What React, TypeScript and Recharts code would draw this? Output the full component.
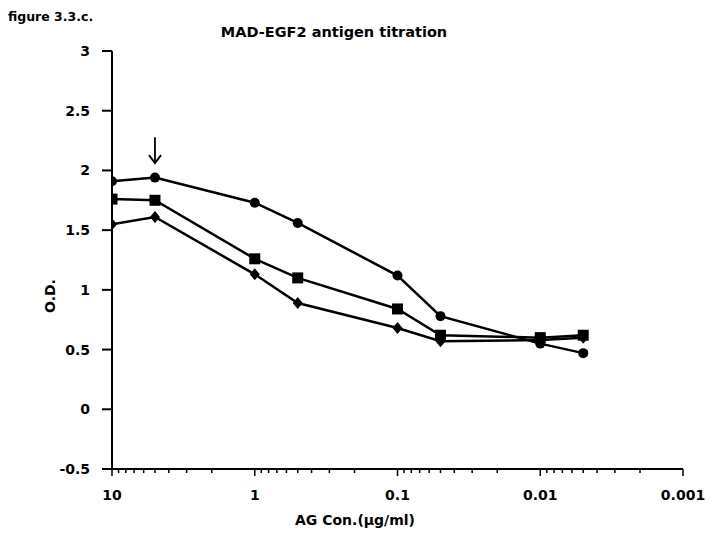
import { LineChart, Line, XAxis, YAxis, ReferenceDot } from 'recharts';

const concentrations = [10, 5, 1, 0.5, 0.1, 0.05, 0.01, 0.005];
const circleOD = [1.91, 1.94, 1.73, 1.56, 1.12, 0.78, 0.55, 0.47];
const squareOD = [1.76, 1.75, 1.26, 1.1, 0.84, 0.62, 0.6, 0.62];
const diamondOD = [1.55, 1.61, 1.13, 0.89, 0.68, 0.57, 0.58, 0.6];

const majorTicks = [10, 1, 0.1, 0.01, 0.001];
const minorMultipliers = [2, 3, 4, 5, 6, 7, 8, 9];
const yTicks = [-0.5, 0, 0.5, 1, 1.5, 2, 2.5, 3];

const arrowAt = 5;
const arrowOD = 2.17;

const data = concentrations.map((c, i) => ({
  conc: c,
  circle: circleOD[i],
  square: squareOD[i],
  diamond: diamondOD[i],
}));

const xTicks = [
  ...majorTicks,
  ...majorTicks.slice(1).flatMap((m) => minorMultipliers.map((k) => +(m * k).toPrecision(3))),
];

const FONT = '"DejaVu Sans", Verdana, sans-serif';

function XTick(props: any) {
  const { x, y, payload } = props;
  const isMajor = majorTicks.includes(payload.value);
  return (
    <g>
      <line x1={x} x2={x} y1={y} y2={y + (isMajor ? 7 : 4)} stroke="#000" strokeWidth={1.5} />
      {isMajor && (
        <text x={x} y={y + 31} textAnchor="middle" fontSize={14} fontWeight="bold" fontFamily={FONT} fill="#000">
          {String(payload.value)}
        </text>
      )}
    </g>
  );
}

const Circle = (p: any) => <circle cx={p.cx} cy={p.cy} r={5} fill="#000" />;
const Square = (p: any) => <rect x={p.cx - 5.5} y={p.cy - 5.5} width={11} height={11} fill="#000" />;
const Diamond = (p: any) => (
  <path d={`M${p.cx},${p.cy - 6} L${p.cx + 5},${p.cy} L${p.cx},${p.cy + 6} L${p.cx - 5},${p.cy} Z`} fill="#000" />
);

const Arrow = (p: any) => (
  <g stroke="#000" strokeWidth={1.8} fill="none">
    <line x1={p.cx} x2={p.cx} y1={p.cy - 13} y2={p.cy + 13} />
    <polyline points={`${p.cx - 6},${p.cy + 5} ${p.cx},${p.cy + 13} ${p.cx + 6},${p.cy + 5}`} />
  </g>
);

export default function App() {
  return (
    <div style={{ position: 'absolute', left: 0, top: 0, width: 723, height: 541, background: '#fff', fontFamily: FONT }}>
      <div style={{ position: 'absolute', left: 8, top: 9, fontSize: 12.5, fontWeight: 'bold' }}>figure 3.3.c.</div>
      <div style={{ position: 'absolute', left: 334, top: 24, transform: 'translateX(-50%)', fontSize: 14.5, fontWeight: 'bold', whiteSpace: 'nowrap' }}>
        MAD-EGF2 antigen titration
      </div>
      <div
        style={{
          position: 'absolute', left: 50, top: 296, transform: 'translate(-50%, -50%) rotate(-90deg)',
          fontSize: 14, fontWeight: 'bold', whiteSpace: 'nowrap',
        }}
      >
        O.D.
      </div>
      <div style={{ position: 'absolute', left: 355, top: 512, transform: 'translateX(-50%)', fontSize: 14, fontWeight: 'bold', whiteSpace: 'nowrap' }}>
        AG Con.(µg/ml)
      </div>
      <LineChart width={723} height={541} data={data} margin={{ top: 51, right: 40, left: 0, bottom: 0 }}>
        <XAxis
          dataKey="conc"
          type="number"
          scale="log"
          domain={[0.001, 10]}
          reversed
          ticks={xTicks}
          interval={0}
          tick={<XTick />}
          tickLine={false}
          tickSize={0}
          tickMargin={0}
          height={72}
          stroke="#000"
          strokeWidth={2}
          allowDataOverflow
        />
        <YAxis
          type="number"
          domain={[-0.5, 3]}
          ticks={yTicks}
          interval={0}
          width={112}
          tickSize={10}
          tickMargin={12}
          stroke="#000"
          strokeWidth={2}
          tick={{ fill: '#000', fontSize: 14, fontWeight: 'bold', fontFamily: FONT }}
          allowDataOverflow
        />
        <Line dataKey="circle" stroke="#000" strokeWidth={2.5} dot={<Circle />} isAnimationActive={false} />
        <Line dataKey="square" stroke="#000" strokeWidth={2.5} dot={<Square />} isAnimationActive={false} />
        <Line dataKey="diamond" stroke="#000" strokeWidth={2.5} dot={<Diamond />} isAnimationActive={false} />
        <ReferenceDot x={arrowAt} y={arrowOD} shape={<Arrow />} ifOverflow="visible" />
      </LineChart>
    </div>
  );
}
